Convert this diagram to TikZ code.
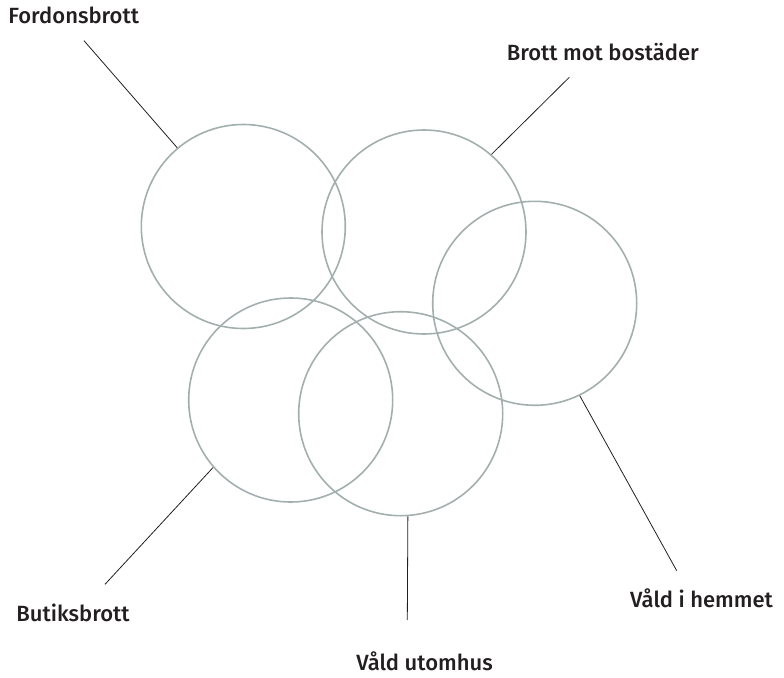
\documentclass[tikz,border=0pt]{standalone}
\usepackage{fontspec}
\setmainfont{Fira Sans}[UprightFont=* Medium]
\usepackage{tikz}
\definecolor{ringgray}{HTML}{A3AFAF}
\definecolor{inkgray}{HTML}{231F20}

\begin{document}
\begin{tikzpicture}[x=1pt, y=-1pt,
  ring/.style={circle, draw=ringgray, line width=1.6pt, minimum size=204pt, inner sep=0pt},
  lead/.style={draw=inkgray, line width=0.8pt},
  lbl/.style={anchor=base, text=inkgray, inner sep=0pt, font=\fontsize{22}{26}\selectfont}]
\useasboundingbox (0,0) rectangle (784,677);
% rings
\node[ring] (fordon)  at (243.3,226.5) {};
\node[ring] (bostad)  at (424,232) {};
\node[ring] (hemmet)  at (534.7,303.3) {};
\node[ring] (butik)   at (290.7,400) {};
\node[ring] (utomhus) at (400.7,413.7) {};
% leader ends
\coordinate (fordon-end)  at (84,40.7);
\coordinate (bostad-end)  at (569.3,77.3);
\coordinate (hemmet-end)  at (676.7,570.7);
\coordinate (butik-end)   at (105,584.3);
\coordinate (utomhus-end) at (407.3,620);
\foreach \c/\a in {fordon/130, bostad/49, hemmet/-64, butik/221, utomhus/-86}
  \draw[lead] (\c.\a) -- (\c-end);
% labels
\node[lbl] (fordon-lbl)  at (73.7,23.3)  {Fordonsbrott};
\node[lbl] (bostad-lbl)  at (602.8,60)   {Brott mot bostäder};
\node[lbl] (hemmet-lbl)  at (701.5,607)  {Våld i hemmet};
\node[lbl] (butik-lbl)   at (73,621.7)   {Butiksbrott};
\node[lbl] (utomhus-lbl) at (424.5,670.7) {Våld utomhus};
\end{tikzpicture}
\end{document}
